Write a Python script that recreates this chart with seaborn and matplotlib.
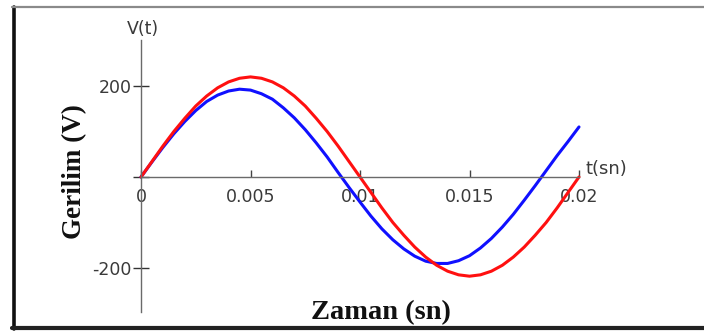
import numpy as np
import pandas as pd
import matplotlib
matplotlib.use("Agg")
import matplotlib.pyplot as plt
from matplotlib.lines import Line2D
import seaborn as sns

t_ms = [0.0, 0.5, 1.0, 1.5, 2.0, 2.5, 3.0, 3.5, 4.0, 4.5, 5.0,
        5.5, 6.0, 6.5, 7.0, 7.5, 8.0, 8.5, 9.0, 9.5, 10.0,
        10.5, 11.0, 11.5, 12.0, 12.5, 13.0, 13.5, 14.0, 14.5, 15.0,
        15.5, 16.0, 16.5, 17.0, 17.5, 18.0, 18.5, 19.0, 19.5, 20.0]
v_red = [0, 34, 68, 100, 129, 156, 178, 196, 209, 217, 220,
         217, 209, 196, 178, 156, 129, 100, 68, 34, 0,
         -34, -68, -100, -128, -154, -176, -194, -207, -215, -218,
         -215, -207, -194, -176, -154, -128, -100, -68, -34, 0]
v_blue = [0, 33, 65, 95, 122, 146, 166, 180, 189, 193, 191,
          183, 171, 152, 130, 104, 75, 44, 10, -23, -55,
          -86, -114, -138, -158, -174, -185, -190, -190, -184, -173,
          -156, -135, -110, -82, -51, -19, 14, 47, 78, 110]

x_ticks = [0, 0.005, 0.01, 0.015, 0.02]
x_tick_labels = ["0", "0.005", "0.01", "0.015", "0.02"]
y_ticks = [-200, 0, 200]
y_tick_labels = ["-200", "", "200"]

t_s = [v / 1000.0 for v in t_ms]
df = pd.DataFrame({
    "t": t_s + t_s,
    "v": v_red + v_blue,
    "seri": ["kirmizi"] * len(t_s) + ["mavi"] * len(t_s),
})

sns.set_theme(style="white")
plt.rcParams["font.family"] = ["DejaVu Sans"]

W, H = 704, 331
fig = plt.figure(figsize=(W / 100, H / 100), dpi=100)
fig.patch.set_facecolor("white")
ax = fig.add_axes([0, 0, 1, 1])
ax.patch.set_alpha(0)

sns.lineplot(data=df, x="t", y="v", hue="seri",
             hue_order=["mavi", "kirmizi"],
             palette={"kirmizi": "#ff1010", "mavi": "#1010ff"},
             linewidth=2.2, legend=False, ax=ax, sort=True,
             estimator=None)

# pixel mapping: x=0 at px 141, 0.02 at px 579; y=0 at px 177, 200 per 91 px
x0_px, xs = 141, 438 / 0.02
y0_px, ys = 177, 91 / 200
ax.set_xlim(-x0_px / xs, (W - x0_px) / xs)
ax.set_ylim(-(H - y0_px) / ys, y0_px / ys)

for s in ["top", "right"]:
    ax.spines[s].set_visible(False)
ax.spines["left"].set_position(("data", 0))
ax.spines["bottom"].set_position(("data", 0))
ax.spines["left"].set_bounds(-297, 301)
ax.spines["bottom"].set_bounds(0, 0.02)
for s in ["left", "bottom"]:
    ax.spines[s].set_color("#6a6a6a")
    ax.spines[s].set_linewidth(1.0)

ax.set_xticks(x_ticks)
ax.set_xticklabels(x_tick_labels)
ax.set_xticks([x_ticks[-1]], minor=True)
ax.set_yticks(y_ticks)
ax.set_yticklabels(y_tick_labels)
ax.tick_params(axis="x", which="major", direction="in", length=5, width=1.0,
               color="#444444", pad=8, labelsize=12.5, labelcolor="#3a3a3a",
               bottom=True)
ax.tick_params(axis="x", which="minor", direction="in", length=7, width=1.2,
               color="#222222", bottom=True)
ax.tick_params(axis="y", direction="inout", length=11, width=1.0,
               color="#333333", pad=1, labelsize=12.5, labelcolor="#3a3a3a",
               left=True)
ax.set_xlabel("")
ax.set_ylabel("")

# axis annotations
ax.text(0.0001, 325, "V(t)", ha="center", va="center", fontsize=12.5,
        color="#3a3a3a")
ax.text(0.0203, 17, "t(sn)", ha="left", va="center", fontsize=13,
        color="#3a3a3a")
ax.text(-0.00301, 13, "Gerilim (V)", rotation=90, ha="center", va="center",
        fontsize=19.5, fontweight="bold", family=["Liberation Serif"],
        color="#111111")
ax.text(0.01096, -297, "Zaman (sn)", ha="center", va="center",
        fontsize=20.5, fontweight="bold", family=["Liberation Serif"],
        color="#111111")

# outer frame
def px(x, y):
    return x / W, 1 - y / H

for (xa, ya), (xb, yb), lw, c in [
    (px(13.5, 7), px(13.5, 329), 2.6, "#111111"),
    (px(12, 7), px(704, 7), 1.6, "#8a8a8a"),
    (px(12, 328), px(704, 328), 3.0, "#222222"),
]:
    fig.add_artist(Line2D([xa, xb], [ya, yb], lw=lw, color=c,
                          transform=fig.transFigure))

fig.savefig("out.png", dpi=100)
